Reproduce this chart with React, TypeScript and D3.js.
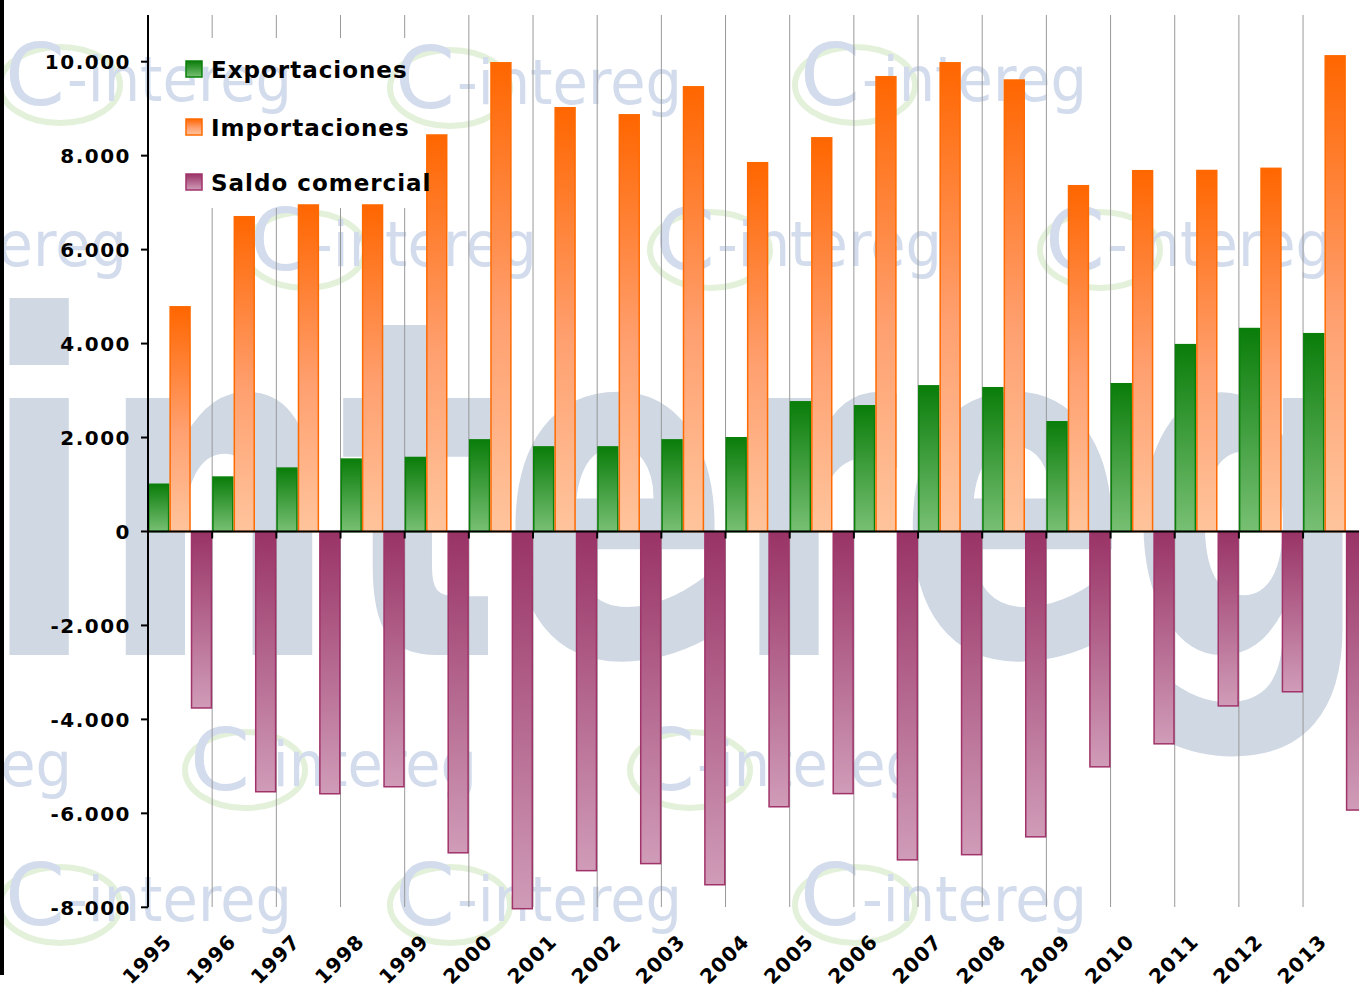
import React from 'react';
import * as d3 from 'd3';

const years = ['1995','1996','1997','1998','1999','2000','2001','2002','2003','2004','2005','2006','2007','2008','2009','2010','2011','2012','2013'];
const exportaciones = [1005, 1158, 1349, 1541, 1575, 1950, 1800, 1800, 1950, 1995, 2760, 2676, 3100, 3060, 2335, 3145, 3977, 4320, 4210];
const importaciones = [4783, 6700, 6950, 6950, 8440, 9977, 9020, 8870, 9466, 7850, 8380, 9680, 9977, 9610, 7360, 7680, 7684, 7730, 10125];
const saldoComercial = [-3757, -5540, -5583, -5434, -6840, -8030, -7220, -7070, -7520, -5860, -5580, -6990, -6880, -6500, -5010, -4520, -3713, -3412, -5930];
const yTicks = [-8000, -6000, -4000, -2000, 0, 2000, 4000, 6000, 8000, 10000];
const seriesNames = ['Exportaciones', 'Importaciones', 'Saldo comercial'];

const W = 1359, H = 990;
const FONT = '"DejaVu Sans", Verdana, sans-serif';

const fmt = (v: number) => {
  const s = Math.abs(v).toString().replace(/\B(?=(\d{3})+(?!\d))/g, '.');
  return (v < 0 ? '-' : '') + s;
};

const logoSpots: [number, number][] = [
  [5, 105], [395, 108], [800, 105],
  [-160, 270], [250, 270], [655, 270], [1045, 270],
  [-215, 790], [190, 790], [635, 790],
  [5, 925], [395, 925], [800, 925],
];

export default function App() {
  const bandW = 64.17;
  const x = d3.scaleBand<string>().domain(years).range([148, 148 + bandW * years.length]).padding(0);
  const inner = d3.scaleBand<string>().domain(['e', 'i', 's']).range([0, x.bandwidth()]).padding(0);
  const y = d3.scaleLinear().domain([-8000, 10000]).range([907.3, 61.7]);
  const y0 = y(0);

  const series = [
    { key: 'e', values: exportaciones, fill: 'url(#gGreen)', stroke: '#0a800a' },
    { key: 'i', values: importaciones, fill: 'url(#gOrange)', stroke: '#ff6a00' },
    { key: 's', values: saldoComercial, fill: 'url(#gPurple)', stroke: '#a0336a' },
  ];
  const boundaries = years.slice(1).map(yr => x(yr)!);
  const legendItems = [
    { name: seriesNames[0], fill: 'url(#gGreen)', stroke: '#0a800a', base: 78 },
    { name: seriesNames[1], fill: 'url(#gOrange)', stroke: '#ff6a00', base: 136 },
    { name: seriesNames[2], fill: 'url(#gPurple)', stroke: '#a0336a', base: 191 },
  ];

  return (
    <svg width={W} height={H} style={{ position: 'absolute', left: 0, top: 0, background: '#fff' }}>
      <defs>
        <linearGradient id="gGreen" x1="0" y1="0" x2="0" y2="1">
          <stop offset="0" stopColor="#0a7d0a" />
          <stop offset="1" stopColor="#78c074" />
        </linearGradient>
        <linearGradient id="gOrange" x1="0" y1="0" x2="0" y2="1">
          <stop offset="0" stopColor="#ff6600" />
          <stop offset="0.55" stopColor="#ffa070" />
          <stop offset="1" stopColor="#ffc49c" />
        </linearGradient>
        <linearGradient id="gPurple" x1="0" y1="0" x2="0" y2="1">
          <stop offset="0" stopColor="#993366" />
          <stop offset="1" stopColor="#d09cb8" />
        </linearGradient>
        <mask id="legendMask">
          <rect x={0} y={0} width={W} height={H} fill="#fff" />
          <rect x={150} y={38} width={292} height={170} fill="#000" />
        </mask>
      </defs>
      <rect x={0} y={0} width={W} height={H} fill="#fff" />

      {/* watermark */}
      <text x={-19} y={655} fontFamily={FONT} fontWeight="bold" fontSize={470} fill="#cfd8e3"
        textLength={1390} lengthAdjust="spacingAndGlyphs">intereg</text>
      {logoSpots.map(([lx, ly], i) => (
        <g key={i} fill="#d3dcec" fontFamily={FONT}>
          <ellipse cx={lx + 55} cy={ly - 20} rx={60} ry={38} fill="none" stroke="#e4f1da" strokeWidth={6} />
          <text x={lx} y={ly} fontSize={86}>C</text>
          <text x={lx + 62} y={ly - 4} fontSize={62} textLength={225} lengthAdjust="spacingAndGlyphs">-intereg</text>
        </g>
      ))}

      <rect x={0} y={0} width={4} height={975} fill="#000" />

      {/* gridlines */}
      <g mask="url(#legendMask)">
        {boundaries.map((bx, i) => (
          <line key={i} x1={bx} x2={bx} y1={15} y2={907} stroke="#999" strokeWidth={1} />
        ))}
      </g>

      {/* bars */}
      {series.map(s => (
        <g key={s.key}>
          {s.values.map((v, i) => {
            const bx = x(years[i])! + inner(s.key)!;
            const top = Math.min(y(v), y0);
            const h = Math.abs(y(v) - y0);
            return <rect key={i} x={bx + 0.75} y={top} width={inner.bandwidth() - 1.5} height={h}
              fill={s.fill} stroke={s.stroke} strokeWidth={1.5} />;
          })}
        </g>
      ))}

      {/* axes */}
      <line x1={148} x2={148} y1={15} y2={907.3} stroke="#000" strokeWidth={2} />
      {yTicks.map(t => (
        <g key={t}>
          <line x1={141} x2={148} y1={y(t)} y2={y(t)} stroke="#000" strokeWidth={2} />
          <text x={131} y={y(t)} dy="0.36em" textAnchor="end" fontFamily={FONT} fontWeight="bold"
            fontSize={20} letterSpacing={1.5} fill="#000">{fmt(t)}</text>
        </g>
      ))}
      <line x1={147} x2={W} y1={y0} y2={y0} stroke="#000" strokeWidth={2} />
      {boundaries.map((bx, i) => (
        <line key={i} x1={bx} x2={bx} y1={y0} y2={y0 + 7} stroke="#000" strokeWidth={2} />
      ))}
      {years.map(yr => {
        const cx = x(yr)! + x.bandwidth() / 2 - 7;
        const cy = 943;
        return <text key={yr} x={cx} y={cy} transform={`rotate(-45 ${cx} ${cy})`} textAnchor="end"
          fontFamily={FONT} fontWeight="bold" fontSize={20} letterSpacing={1} fill="#000">{yr}</text>;
      })}

      {/* legend */}
      {legendItems.map(it => (
        <g key={it.name}>
          <rect x={186} y={it.base - 17} width={16} height={16} fill={it.fill} stroke={it.stroke} strokeWidth={1.5} />
          <text x={211} y={it.base} fontFamily={FONT} fontWeight="bold" fontSize={23} letterSpacing={1} fill="#000">{it.name}</text>
        </g>
      ))}
    </svg>
  );
}
